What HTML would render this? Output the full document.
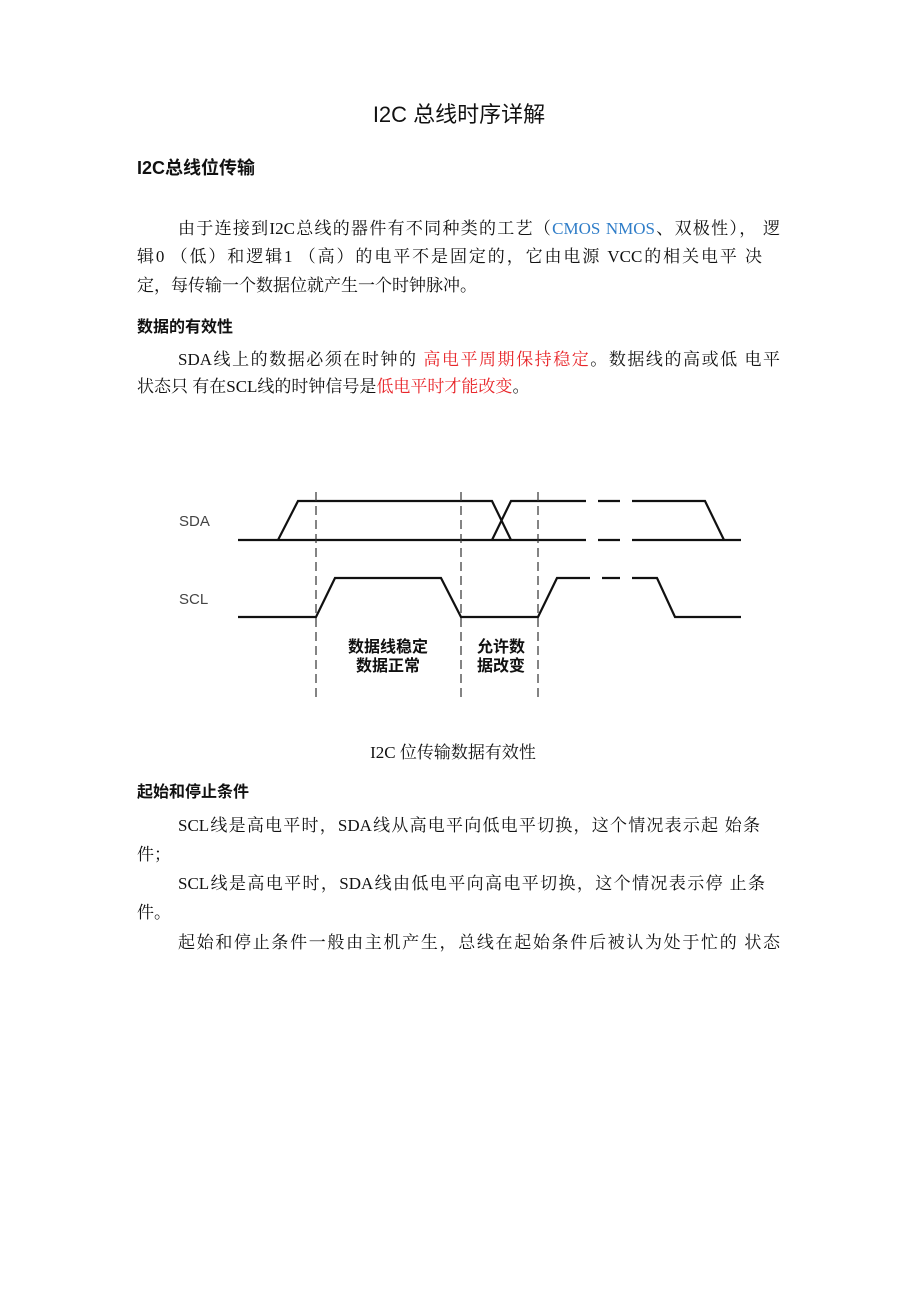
<!DOCTYPE html>
<html><head><meta charset="utf-8"><style>
body{margin:0;width:920px;height:1302px;background:#fff;position:relative;overflow:hidden;font-family:"Liberation Serif","Noto Serif CJK SC",serif;color:#111}
.l{position:absolute;white-space:nowrap;font-size:17px;line-height:24px;height:24px}
.j{text-align:justify;text-align-last:justify;white-space:normal;overflow:hidden}
.h{font-family:"Liberation Sans","Noto Sans CJK SC",sans-serif;font-weight:bold;color:#111}
.r{color:#e8262a}.b{color:#2f7dc8}
</style></head><body>
<div class="l" style="left:0;width:918px;text-align:center;top:101px;font-size:22px;line-height:28px;font-family:'Liberation Sans','Noto Sans CJK SC',sans-serif">I2C 总线时序详解</div>
<div class="l h" style="left:137px;top:156px;font-size:18px">I2C总线位传输</div>
<div class="l j" style="left:178px;width:602px;top:217px">由于连接到I2C总线的器件有不同种类的工艺（<span class="b">CMOS NMOS</span>、双极性）， 逻</div>
<div class="l j" style="left:137px;width:625px;top:245px">辑0 （低）和逻辑1 （高）的电平不是固定的，它由电源 VCC的相关电平 决</div>
<div class="l" style="left:137px;top:274px">定，每传输一个数据位就产生一个时钟脉冲。</div>
<div class="l h" style="left:137px;top:316px;font-size:16px">数据的有效性</div>
<div class="l j" style="left:178px;width:602px;top:348px">SDA线上的数据必须在时钟的 <span class="r">高电平周期保持稳定</span>。数据线的高或低 电平</div>
<div class="l" style="left:137px;top:375px">状态只 有在SCL线的时钟信号是<span class="r">低电平时才能改变</span>。</div>
<svg style="position:absolute;left:0;top:0" width="920" height="760">
<g fill="none" stroke="#111" stroke-width="2.2">
<polyline points="238,540 586,540"/><polyline points="598,540 620,540"/><polyline points="632,540 741,540"/>
<polyline points="278,540 298,501 492,501 511,540"/>
<polyline points="492,540 511,501 586,501"/><polyline points="598,501 620,501"/><polyline points="632,501 705,501 724,540"/>
<polyline points="238,617 316,617 335,578 441,578 461,617 538,617 557,578 590,578"/>
<polyline points="602,578 620,578"/><polyline points="632,578 657,578 675,617 741,617"/>
</g>
<g stroke="#333" stroke-width="1.2" stroke-dasharray="9,5">
<line x1="316" y1="492" x2="316" y2="698"/><line x1="461" y1="492" x2="461" y2="698"/><line x1="538" y1="492" x2="538" y2="698"/>
</g>
<g font-family="Liberation Sans,sans-serif" font-size="15" fill="#444">
<text x="179" y="526">SDA</text><text x="179" y="604">SCL</text></g>
<g font-family="Noto Sans CJK SC,sans-serif" font-size="16" font-weight="bold" fill="#111" text-anchor="middle">
<text x="388" y="652">数据线稳定</text><text x="388" y="671">数据正常</text>
<text x="501" y="652">允许数</text><text x="501" y="671">据改变</text></g>
</svg>
<div class="l" style="left:0;width:906px;text-align:center;top:741px">I2C 位传输数据有效性</div>
<div class="l h" style="left:137px;top:781px;font-size:16px">起始和停止条件</div>
<div class="l j" style="left:178px;width:582px;top:814px">SCL线是高电平时，SDA线从高电平向低电平切换，这个情况表示起 始条</div>
<div class="l" style="left:137px;top:843px">件；</div>
<div class="l j" style="left:178px;width:587px;top:872px">SCL线是高电平时，SDA线由低电平向高电平切换，这个情况表示停 止条</div>
<div class="l" style="left:137px;top:901px">件。</div>
<div class="l j" style="left:178px;width:602px;top:931px">起始和停止条件一般由主机产生，总线在起始条件后被认为处于忙的 状态</div>
</body></html>
